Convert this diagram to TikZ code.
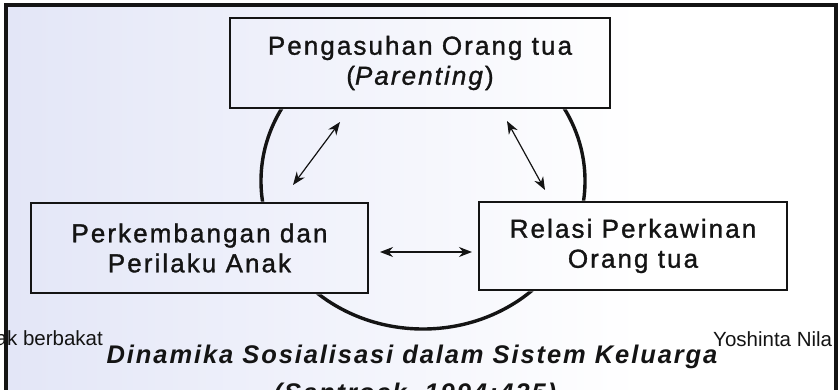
\documentclass[tikz,border=0pt]{standalone}
\usepackage{fontspec}
\setmainfont{Liberation Sans}
\newfontfamily\boxfont[LetterSpace=8,FakeBold=1.2]{Liberation Sans}
\newfontfamily\capfont[LetterSpace=7.5]{Liberation Sans}
\usetikzlibrary{arrows.meta}
\definecolor{ink}{HTML}{141414}
\definecolor{wmblue}{HTML}{E3E6F7}
\definecolor{wmgold}{HTML}{FBEFCC}

\begin{document}
\begin{tikzpicture}[x=1pt, y=-1pt,
  % one unit is one pixel of the slide, y runs downwards
  factor/.style  = {draw=ink, line width=2.6pt, align=center, inner sep=0pt,
                    text=ink, font=\boxfont\fontsize{26}{30}\selectfont},
  ring/.style    = {draw=ink, line width=3.4pt},
  link/.style    = {{Stealth[length=13pt,width=10pt]}-{Stealth[length=13pt,width=10pt]},
                    line width=1.2pt, draw=ink},
  caption/.style = {font=\capfont\bfseries\itshape\fontsize{25.5}{30}\selectfont,
                    text=ink, inner sep=0pt, anchor=base},
  margin/.style  = {font=\fontsize{20.5}{24}\selectfont, text=ink, inner sep=0pt},
  frame/.style   = {draw=ink, line width=3.5pt},
]
\useasboundingbox (0,0) rectangle (840,390);
\clip (0,0) rectangle (840,390);

% -------------------------------------------------------------- backdrop --
\fill[white] (0,0) rectangle (840,390);
\shade[left color=wmblue, middle color=wmgold, right color=white]
  (8,7) rectangle (640,390);

% ----------------------------------------------------------------- boxes --
\node[factor, minimum width=380pt, minimum height=90pt] (parent) at (420,63)
  {Pengasuhan Orang tua\\(\textit{Parenting})};
\node[factor, minimum width=337pt, minimum height=90pt] (child) at (199.5,248)
  {Perkembangan dan\\Perilaku Anak};
\node[factor, minimum width=308pt, minimum height=88pt] (marriage) at (633,246)
  {Relasi Perkawinan\\Orang tua};

% ---------------------------------------------- the ring behind the boxes --
\begin{scope}[even odd rule]
  \clip (0,0) rectangle (840,390)
    (parent.south west) rectangle (parent.north east)
    (child.south west) rectangle (child.north east)
    (marriage.south west) rectangle (marriage.north east);
  \draw[ring] (423,181) ellipse [x radius=162pt, y radius=148pt];
\end{scope}

% ---------------------------------------------------------------- arrows --
\coordinate (pc) at (340,122);
\coordinate (cp) at (293,185);
\coordinate (pm) at (507,121);
\coordinate (mp) at (545,190);
\coordinate (cm) at (380,252);
\coordinate (mc) at (472,252);
\draw[link] (pc) -- (cp);
\draw[link] (pm) -- (mp);
\draw[link] (cm) -- (mc);

% --------------------------------------------------------------- caption --
\node[caption] (title) at (412,363) {Dinamika Sosialisasi dalam Sistem Keluarga};
\node[caption] (source) at (415,401) {(Santrock, 1994:435)};
\node[margin, anchor=base east] (lefttag) at (103,345) {ak berbakat};
\node[margin, anchor=base west] (righttag) at (713,346) {Yoshinta Nila};

% ----------------------------------------------------------------- frame --
\draw[frame] (6,392) -- (6,5) -- (836,5) -- (836,392);

\end{tikzpicture}
\end{document}
